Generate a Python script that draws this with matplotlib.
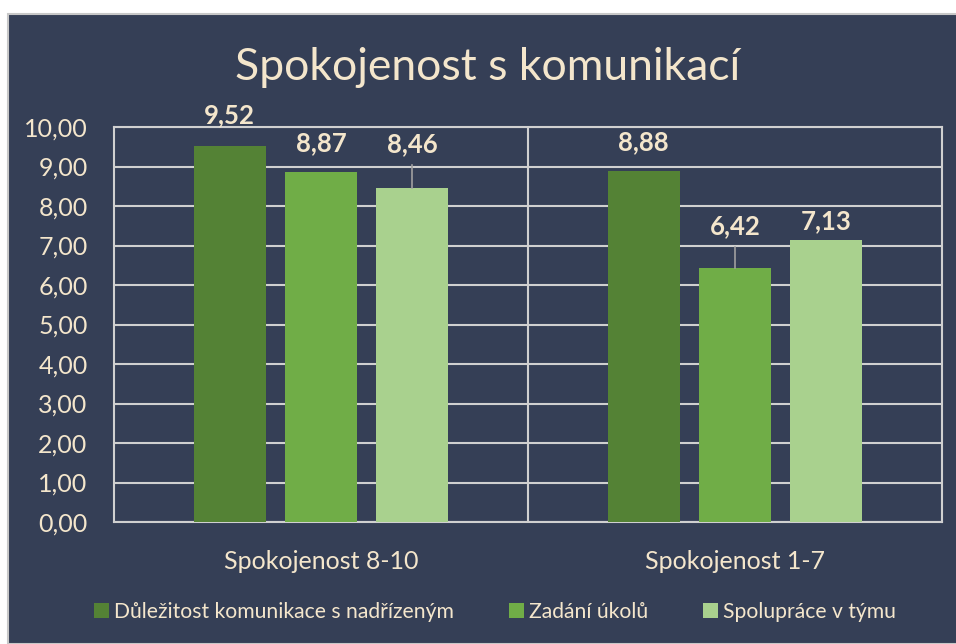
import matplotlib.pyplot as plt
import numpy as np
from matplotlib.patches import Rectangle

# data
categories = ['Spokojenost 8-10', 'Spokojenost 1-7']
series = ['Důležitost komunikace s nadřízeným', 'Zadání úkolů', 'Spolupráce v týmu']
values = {
    'Důležitost komunikace s nadřízeným': [9.52, 8.88],
    'Zadání úkolů': [8.87, 6.42],
    'Spolupráce v týmu': [8.46, 7.13],
}
yticks = [0, 1, 2, 3, 4, 5, 6, 7, 8, 9, 10]

colors = ['#548235', '#70AD47', '#A9D18E']
bg = '#353F56'
txt = '#F4E6CC'
grid = '#D0D0D0'
# label offsets above bar top in px; leader lines where offset is large
label_off = [[31, 29], [28, 42], [44, 19]]

plt.rcParams['font.family'] = ['Lato', 'DejaVu Sans']

W, H = 956, 644
fig = plt.figure(figsize=(W / 100, H / 100), dpi=100, facecolor='white')
fig.patches.append(Rectangle((8 / W, 0), 1, 1 - 14 / H, transform=fig.transFigure,
                             facecolor=bg, edgecolor='#C8C8C8', linewidth=1.5, zorder=-5))

ax = fig.add_axes([114 / W, 1 - 522 / H, 828 / W, 395 / H])
ax.set_facecolor(bg)
ax.patch.set_alpha(0)

x = np.arange(len(categories))
width = 72 / 413
step = 91 / 413
px_per_unit = 395 / 10

for i, s in enumerate(series):
    pos = x + (i - 1) * step
    vals = values[s]
    ax.bar(pos, vals, width=width, color=colors[i], label=s, zorder=3)
    for j, (p, v) in enumerate(zip(pos, vals)):
        off = label_off[i][j]
        ax.annotate(f'{v:.2f}'.replace('.', ','), (p, v), xytext=(0, off * 0.72),
                    textcoords='offset points', ha='center', va='center',
                    fontsize=18.5, fontweight='bold', color=txt, zorder=5,
                    annotation_clip=False)
        if off > 35:
            ax.plot([p, p], [v, v + (off - 21) / px_per_unit], color='#A0A0A0',
                    linewidth=1.2, zorder=4, clip_on=False)

ax.set_xlim(-0.5, 1.5)
ax.set_ylim(0, 10)
ax.set_yticks(yticks)
ax.set_yticklabels([f'{t:.2f}'.replace('.', ',') for t in yticks])
ax.set_xticks(x)
ax.set_xticklabels(categories)
ax.tick_params(axis='y', length=0, pad=19, labelsize=18, labelcolor=txt)
ax.tick_params(axis='x', length=0, pad=20, labelsize=18, labelcolor=txt)
ax.grid(axis='y', color=grid, linewidth=1.5, zorder=1)
ax.axvline(0.5, color=grid, linewidth=1.5, zorder=1)
for sp in ax.spines.values():
    sp.set_color(grid)
    sp.set_linewidth(1.5)

fig.text(488 / W, 1 - 68 / H, 'Spokojenost s komunikací', ha='center', va='center',
         fontsize=32, fontweight='normal', color=txt)

leg = fig.legend(loc='center', bbox_to_anchor=(495 / W, 1 - 612 / H), ncol=3,
                 frameon=False, fontsize=15.2, labelcolor=txt, handlelength=0.7,
                 handleheight=0.7, handletextpad=0.25, columnspacing=2.6)

fig.savefig('out.png', dpi=100, facecolor='white')
